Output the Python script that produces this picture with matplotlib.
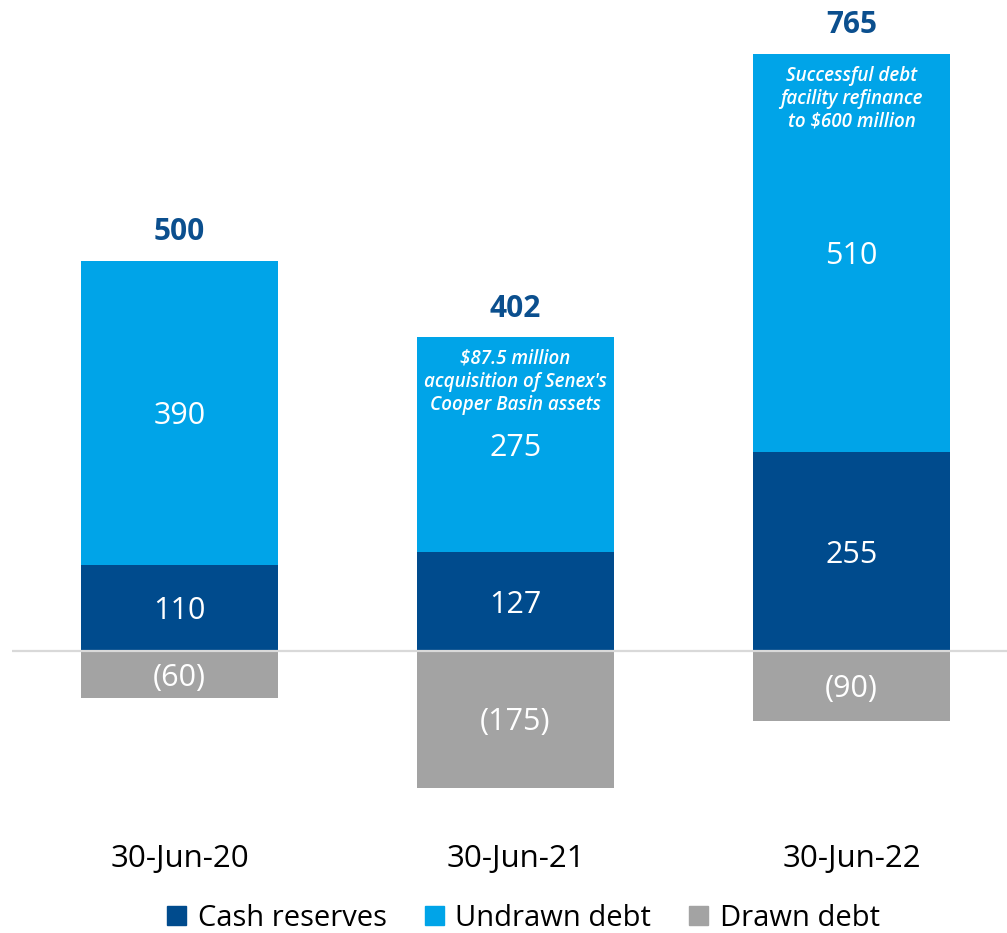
import matplotlib
matplotlib.use("Agg")
import matplotlib.pyplot as plt
from matplotlib.patches import Patch

plt.rcParams['font.family'] = ['Open Sans', 'DejaVu Sans']

# Liquidity position, $ million
dates = ["30-Jun-20", "30-Jun-21", "30-Jun-22"]
cash = [110, 127, 255]
undrawn = [390, 275, 510]
drawn = [-60, -175, -90]
totals = [500, 402, 765]
drawn_labels = ["(60)", "(175)", "(90)"]
notes = ["", "\\$87.5 million\nacquisition of Senex's\nCooper Basin assets",
         "Successful debt\nfacility refinance\nto \\$600 million"]

c_cash = "#004B8D"
c_undrawn = "#00A4E8"
c_drawn = "#A3A3A3"
c_total = "#0B4F8E"

fig = plt.figure(figsize=(10.07, 9.33), dpi=100)
ax = fig.add_axes([12 / 1007, 0, 995 / 1007, 1])

x = list(range(len(dates)))
w = 0.586
ax.bar(x, cash, width=w, color=c_cash, zorder=2)
ax.bar(x, undrawn, width=w, bottom=cash, color=c_undrawn, zorder=2)
ax.bar(x, drawn, width=w, color=c_drawn, zorder=2)
ax.axhline(0, color="#D9D9D9", lw=1.6, zorder=3)

dy = -4  # nudge segment labels down a touch
for i in x:
    ax.text(i, cash[i] / 2 + dy, str(cash[i]), ha="center", va="center",
            color="white", fontsize=22, zorder=4)
    ax.text(i, cash[i] + undrawn[i] / 2 + dy, str(undrawn[i]), ha="center",
            va="center", color="white", fontsize=22, zorder=4)
    ax.text(i, drawn[i] / 2 + dy, drawn_labels[i], ha="center", va="center",
            color="white", fontsize=22, zorder=4)
    ax.text(i, totals[i] + 37, str(totals[i]), ha="center", va="center",
            color=c_total, fontsize=21.5, fontweight="bold", zorder=4)
    ax.text(i, -266, dates[i], ha="center", va="center",
            color="black", fontsize=22.5)

# call-out notes inside the undrawn segment
ax.text(1, 345, notes[1], ha="center", va="center", color="white",
        fontsize=13.5, style="italic", fontweight="semibold",
        linespacing=1.2, zorder=4)
ax.text(2, 708, notes[2], ha="center", va="center", color="white",
        fontsize=13.5, style="italic", fontweight="semibold",
        linespacing=1.2, zorder=4)

ax.set_xlim(-0.4985, 2.4628)
ax.set_ylim(-361.5, 834.6)
ax.axis("off")

handles = [Patch(color=c_cash, label="Cash reserves"),
           Patch(color=c_undrawn, label="Undrawn debt"),
           Patch(color=c_drawn, label="Drawn debt")]
fig.legend(handles=handles, loc="center", bbox_to_anchor=(0.52, 1 - 918 / 933),
           ncol=3, frameon=False, fontsize=21, handlelength=0.65,
           handleheight=0.65, handletextpad=0.4, columnspacing=1.3)

fig.savefig("out.png", dpi=100)
